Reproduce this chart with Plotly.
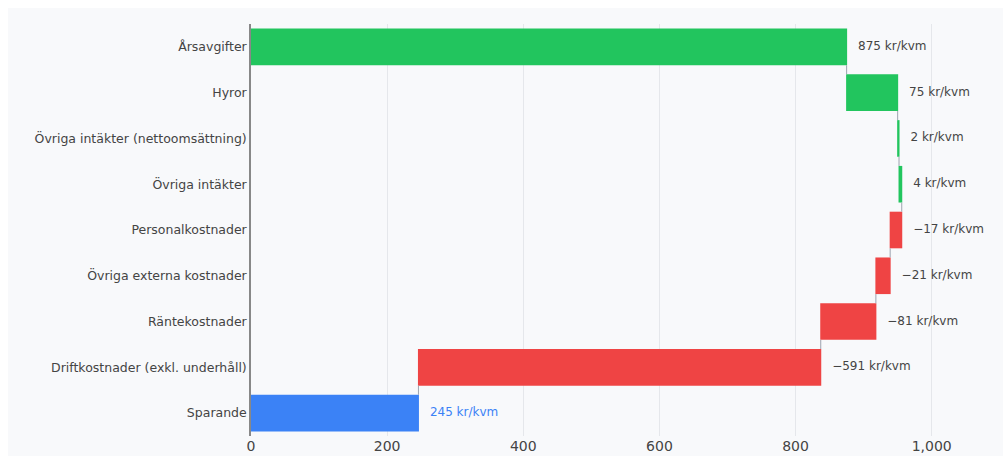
import plotly.graph_objects as go

categories = ["Årsavgifter", "Hyror", "Övriga intäkter (nettoomsättning)", "Övriga intäkter",
              "Personalkostnader", "Övriga externa kostnader", "Räntekostnader",
              "Driftkostnader (exkl. underhåll)", "Sparande"]
values = [875, 75, 2, 4, -17, -21, -81, -591, 245]
measures = ["relative"] * 8 + ["total"]
labels = ["875 kr/kvm", "75 kr/kvm", "2 kr/kvm", "4 kr/kvm", "−17 kr/kvm", "−21 kr/kvm",
          "−81 kr/kvm", "−591 kr/kvm", "245 kr/kvm"]
label_colors = ["#444444"] * 8 + ["#3b82f6"]
x_ticks = [0, 200, 400, 600, 800, 1000]
x_ticktext = ["0", "200", "400", "600", "800", "1,000"]

# label anchor = right end of each waterfall bar (derived from the data)
label_x = []
cum = 0
for v, m in zip(values, measures):
    if m == "total":
        label_x.append(cum)
    else:
        label_x.append(max(cum, cum + v))
        cum += v

NB = "\u00a0\u00a0\u00a0"

fig = go.Figure()
fig.add_trace(go.Waterfall(
    orientation="h",
    y=categories,
    x=values,
    measure=measures,
    textposition="none",
    increasing=dict(marker=dict(color="#22c55e")),
    decreasing=dict(marker=dict(color="#ef4444")),
    totals=dict(marker=dict(color="#3b82f6")),
    connector=dict(line=dict(color="#9ca3af", width=1)),
    width=0.8,
    hoverinfo="skip",
))
fig.add_trace(go.Scatter(
    x=label_x,
    y=categories,
    mode="text",
    text=[NB + t for t in labels],
    textposition="middle right",
    textfont=dict(size=12, color=label_colors, family="DejaVu Sans"),
    cliponaxis=False,
    hoverinfo="skip",
))

fig.add_shape(type="rect", xref="paper", yref="paper",
              x0=(8 - 251) / 744, x1=1.2, y0=-0.3, y1=1 + (24 - 8) / 412,
              fillcolor="#f8f9fb", line=dict(width=0), layer="below")

fig.update_layout(
    width=1003, height=456,
    margin=dict(l=251, r=8, t=24, b=20),
    paper_bgcolor="#ffffff",
    plot_bgcolor="rgba(0,0,0,0)",
    font=dict(family="DejaVu Sans", color="#444444"),
    showlegend=False,
    xaxis=dict(range=[0, 1093], tickvals=x_ticks, ticktext=x_ticktext,
               showgrid=True, gridcolor="#e5e7eb", gridwidth=1, zeroline=False,
               tickfont=dict(size=14, color="#444444"), showline=False, ticks="",
               automargin=False, ticklabelstandoff=0),
    yaxis=dict(autorange="reversed", showline=True, linecolor="#888888", linewidth=1.5,
               tickfont=dict(size=12.5, color="#444444"), ticks="", showgrid=False,
               automargin=False),
)

fig.write_html("out.html")
